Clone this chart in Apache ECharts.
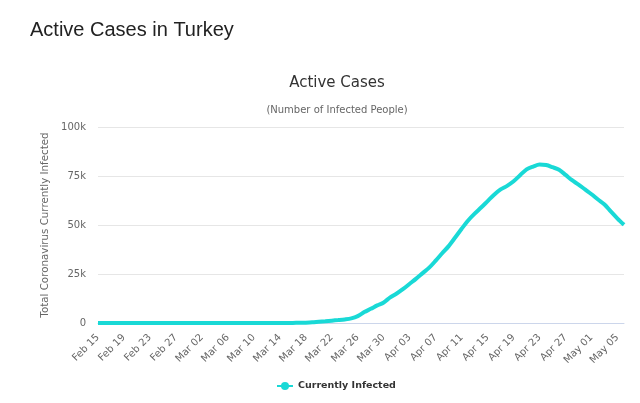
<!DOCTYPE html>
<html>
<head>
<meta charset="utf-8">
<script src="https://cdn.jsdelivr.net/npm/echarts@6/dist/echarts.min.js"></script>
<style>
html,body{margin:0;padding:0;background:#fff;}
#c{width:640px;height:403px;}
</style>
</head>
<body>
<div id="c"></div>
<script>
var categories = [
 "Feb 15","Feb 16","Feb 17","Feb 18","Feb 19","Feb 20","Feb 21","Feb 22","Feb 23","Feb 24","Feb 25","Feb 26","Feb 27","Feb 28","Feb 29",
 "Mar 01","Mar 02","Mar 03","Mar 04","Mar 05","Mar 06","Mar 07","Mar 08","Mar 09","Mar 10","Mar 11","Mar 12","Mar 13","Mar 14","Mar 15",
 "Mar 16","Mar 17","Mar 18","Mar 19","Mar 20","Mar 21","Mar 22","Mar 23","Mar 24","Mar 25","Mar 26","Mar 27","Mar 28","Mar 29","Mar 30","Mar 31",
 "Apr 01","Apr 02","Apr 03","Apr 04","Apr 05","Apr 06","Apr 07","Apr 08","Apr 09","Apr 10","Apr 11","Apr 12","Apr 13","Apr 14","Apr 15",
 "Apr 16","Apr 17","Apr 18","Apr 19","Apr 20","Apr 21","Apr 22","Apr 23","Apr 24","Apr 25","Apr 26","Apr 27","Apr 28","Apr 29","Apr 30",
 "May 01","May 02","May 03","May 04","May 05","May 06"
];
var currentlyInfected = [
 0,0,0,0,0,0,0,0,0,0,0,0,0,0,0,
 0,0,0,0,0,0,0,0,0,0,1,1,5,5,18,
 47,97,189,355,661,926,1206,1492,1828,2348,3528,5564,7224,8981,10497,13074,
 15069,17364,20012,22647,25453,28242,31802,35568,39232,43600,48101,52312,55796,58909,62200,
 65461,68146,69986,72313,75410,78414,79821,80808,80575,79485,78185,75570,72852,70607,68144,
 65700,63000,60500,56800,53300,50100
];
var yTicks = [0, 25000, 50000, 75000, 100000];
var tickLabels = ["0", "25k", "50k", "75k", "100k"];

var chart = echarts.init(document.getElementById('c'), null, {renderer: 'canvas'});
var sans = '"DejaVu Sans", Verdana, sans-serif';
chart.setOption({
  animation: false,
  backgroundColor: '#fff',
  title: [
    {text: 'Active Cases in Turkey', left: 25, top: 15,
     textStyle: {fontFamily: '"Liberation Sans", Arial, sans-serif', fontSize: 20, fontWeight: 'normal', color: '#222'}},
    {text: 'Active Cases', left: 332, top: 71, textAlign: 'center',
     textStyle: {fontFamily: sans, fontSize: 15, fontWeight: 'normal', color: '#333'}},
    {text: '(Number of Infected People)', left: 332, top: 100, textAlign: 'center',
     textStyle: {fontFamily: sans, fontSize: 10, fontWeight: 'normal', color: '#666'}}
  ],
  legend: {
    data: ['Currently Infected'], left: 271, top: 376, itemWidth: 16, itemHeight: 10, itemGap: 5,
    textStyle: {fontFamily: sans, fontSize: 9.5, fontWeight: 'bold', color: '#333'}
  },
  grid: {left: 98, right: 16, top: 127, bottom: 80, containLabel: false},
  xAxis: {
    type: 'category', data: categories, boundaryGap: false,
    axisLine: {lineStyle: {color: '#ccd6eb'}},
    axisTick: {show: false},
    axisLabel: {interval: 3, rotate: 45, color: '#666', fontFamily: sans, fontSize: 10, margin: 13}
  },
  yAxis: {
    type: 'value', min: 0, max: 100000, interval: 25000,
    name: 'Total Coronavirus Currently Infected', nameLocation: 'middle', nameGap: 38, nameRotate: 90,
    nameTextStyle: {color: '#666', fontFamily: sans, fontSize: 10.3},
    axisLine: {show: false}, axisTick: {show: false},
    splitLine: {lineStyle: {color: '#e6e6e6'}},
    axisLabel: {color: '#666', fontFamily: sans, fontSize: 10, margin: 12,
      formatter: function(v){ var i = yTicks.indexOf(v); return i >= 0 ? tickLabels[i] : ''; }}
  },
  series: [{
    name: 'Currently Infected', type: 'line', data: currentlyInfected,
    smooth: 0.3, showSymbol: false, symbol: 'circle', symbolSize: 8,
    lineStyle: {color: '#19d9d6', width: 4},
    itemStyle: {color: '#19d9d6'}
  }]
});
</script>
</body>
</html>
